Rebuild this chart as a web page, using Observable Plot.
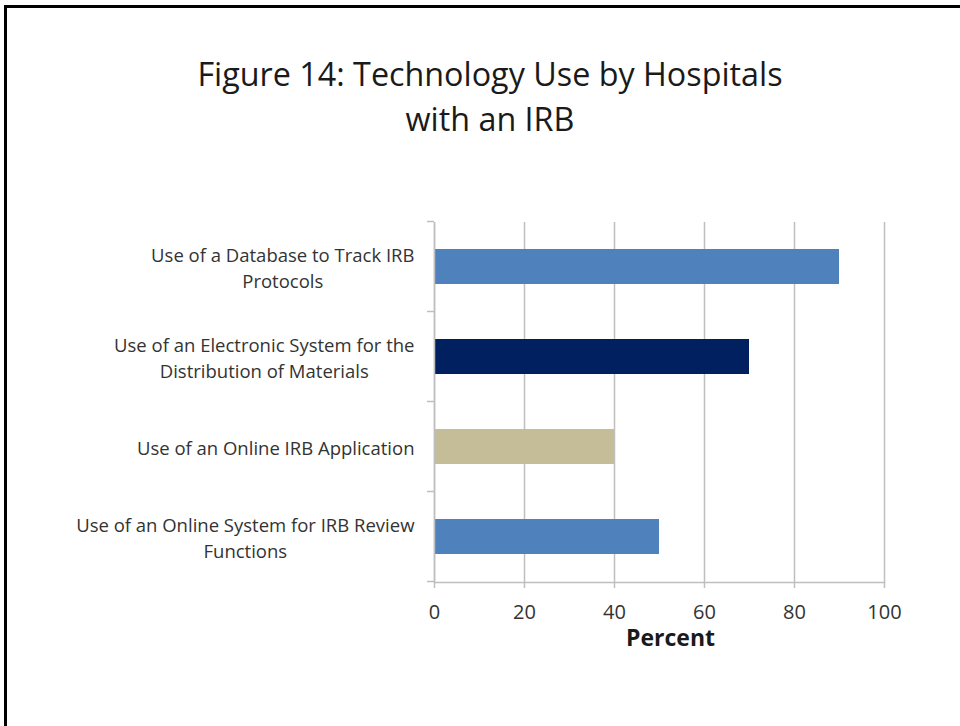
<!DOCTYPE html>
<html>
<head>
<meta charset="utf-8">
<script src="https://cdn.jsdelivr.net/npm/d3@7"></script>
<script src="https://cdn.jsdelivr.net/npm/@observablehq/plot@0.6"></script>
<style>
  html, body { margin: 0; padding: 0; background: #fff; }
  #page { position: relative; width: 960px; height: 726px; overflow: hidden; background: #fff; font-family: "Open Sans", Lato, sans-serif; }
  #frame { position: absolute; left: 4px; top: 5px; width: 1000px; height: 800px; border-left: 3px solid #000; border-top: 3px solid #000; box-sizing: border-box; }
  #title { position: absolute; left: 0; width: 980px; top: 51px; text-align: center; font-size: 32.3px; line-height: 45px; color: #1a1a1a; }
  #chart { position: absolute; left: 0; top: 0; }
</style>
</head>
<body>
<div id="page">
  <div id="frame"></div>
  <div id="chart"></div>
  <div id="title">Figure 14: Technology Use by Hospitals<br>with an IRB</div>
</div>
<script>
const categories = [
  "Use of a Database to Track IRB\nProtocols",
  "Use of an Electronic System for the\nDistribution of Materials",
  "Use of an Online IRB Application",
  "Use of an Online System for IRB Review\nFunctions"
];
const values = [90, 70, 40, 50];
const barColors = ["#4F81BD", "#002060", "#C4BD97", "#4F81BD"];
const xTicks = [0, 20, 40, 60, 80, 100];
const xLabel = "Percent";

const data = categories.map((c, i) => ({cat: c, value: values[i], color: barColors[i]}));
const gray = "#BFBFBF";

// tick marks at band boundaries on the category axis, from the y band scale
function bandBoundaryTicks(index, scales, channels, dims) {
  const y = scales.y;
  const step = typeof y.step === "function" ? y.step() : 90;
  const bw = typeof y.bandwidth === "function" ? y.bandwidth() : 35;
  const off = (step - bw) / 2;
  const xs = dims.marginLeft;
  const ys = categories.map(c => y(c) - off);
  ys.push(y(categories[categories.length - 1]) + bw + off);
  const g = d3.create("svg:g");
  g.selectAll("line").data(ys).join("line")
    .attr("x1", xs - 7).attr("x2", xs)
    .attr("y1", d => d).attr("y2", d => d)
    .attr("stroke", gray).attr("stroke-width", 1.5);
  return g.node();
}

const plot = Plot.plot({
  width: 960,
  height: 726,
  marginLeft: 434,
  marginRight: 76,
  marginTop: 222,
  marginBottom: 144,
  style: {fontFamily: "'Open Sans', Lato, sans-serif", fontSize: "18.5px", color: "#333", background: "transparent"},
  x: {domain: [0, 100], label: null},
  y: {domain: categories, paddingInner: 0.61, paddingOuter: 0.305, label: null},
  marks: [
    Plot.gridX(xTicks, {stroke: gray, strokeOpacity: 1, strokeWidth: 1.5}),
    Plot.barX(data, {x: "value", y: "cat", fill: "color"}),
    Plot.ruleX([0], {stroke: gray, strokeWidth: 1.5}),
    Plot.frame({anchor: "bottom", stroke: gray, strokeWidth: 1.5}),
    Plot.axisX({ticks: xTicks, tickSize: 6, tickPadding: 16, stroke: gray, strokeWidth: 1.5, fill: "#333", fontSize: 20, label: null}),
    Plot.text([xLabel], {frameAnchor: "bottom", dy: 63, dx: 11, fontWeight: "bold", fontSize: 23, fill: "#1a1a1a"}),
    Plot.axisY({tickSize: 0, tickPadding: 20, lineHeight: 1.4, fill: "#333", label: null}),
    bandBoundaryTicks
  ]
});
document.getElementById("chart").appendChild(plot);

// center the wrapped lines of each category label on its widest line
d3.select(plot).selectAll("[aria-label='y-axis tick label'] text").each(function () {
  const t = d3.select(this);
  const spans = t.selectAll("tspan");
  if (spans.size() < 2) return;
  let w = 0;
  spans.each(function () { w = Math.max(w, this.getComputedTextLength()); });
  t.attr("text-anchor", "middle");
  const x0 = +(t.attr("x") || 0);
  spans.attr("x", x0 - w / 2);
});
</script>
</body>
</html>
